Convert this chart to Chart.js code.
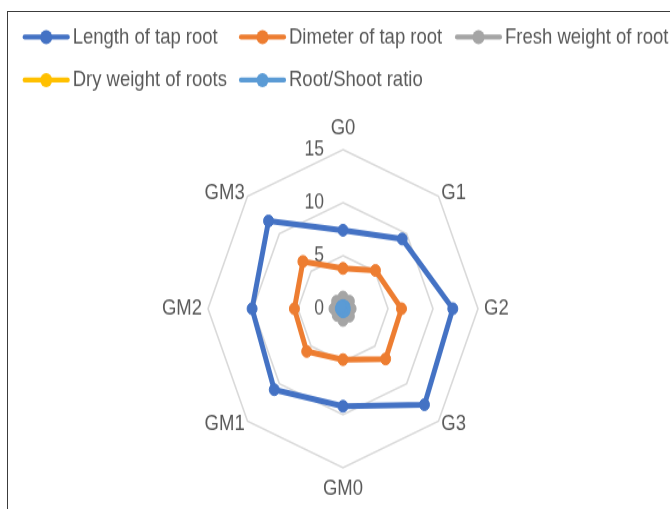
<!DOCTYPE html>
<html>
<head>
<meta charset="utf-8">
<script src="https://cdn.jsdelivr.net/npm/chart.js@4/dist/chart.umd.min.js"></script>
<style>
  html, body { margin: 0; padding: 0; background: #ffffff; }
  #page { position: relative; width: 670px; height: 509px; overflow: hidden; background: #fff; }
  #frame { position: absolute; left: 7px; top: 11px; width: 720px; height: 600px; border: 1px solid #3c3c3c; box-sizing: border-box; }
  #wrap { position: absolute; left: 0; top: 0; width: 670px; height: 432px; transform: scaleY(1.1782); transform-origin: 0 0; }
</style>
</head>
<body>
<div id="page">
  <div id="frame"></div>
  <div id="wrap"><canvas id="c" width="670" height="432"></canvas></div>
</div>
<script>
// ---- data ----
const categories = ['G0', 'G1', 'G2', 'G3', 'GM0', 'GM1', 'GM2', 'GM3'];
const seriesNames = ['Length of tap root', 'Dimeter of tap root', 'Fresh weight of root', 'Dry weight of roots', 'Root/Shoot ratio'];
const lengthOfTapRoot   = [7.4, 9.3, 12.2, 12.8, 9.2, 10.8, 10.1, 11.7];
const diameterOfTapRoot = [3.8, 5.1, 6.5, 6.7, 4.8, 5.7, 5.4, 6.3];
const freshWeightOfRoot = [1.1, 1.0, 0.9, 1.0, 1.1, 0.9, 1.0, 1.0];
const dryWeightOfRoots  = [0.2, 0.2, 0.15, 0.2, 0.2, 0.15, 0.2, 0.2];
const rootShootRatio    = [0.3, 0.3, 0.25, 0.3, 0.3, 0.25, 0.3, 0.3];
const axisMin = 0;
const axisMax = 15;
const axisStep = 5;
const seriesColors = ['#4472C4', '#ED7D31', '#A5A5A5', '#FFC000', '#5B9BD5'];

const seriesValues = [lengthOfTapRoot, diameterOfTapRoot, freshWeightOfRoot, dryWeightOfRoots, rootShootRatio];
const TEXT = '#595959';

const datasets = seriesValues.map((vals, i) => ({
  label: seriesNames[i],
  data: vals,
  borderColor: seriesColors[i],
  backgroundColor: seriesColors[i],
  pointBackgroundColor: seriesColors[i],
  pointBorderColor: seriesColors[i],
  borderWidth: 5,
  pointRadius: 5,
  pointBorderWidth: 1,
  borderJoinStyle: 'round',
  fill: false,
  order: seriesValues.length - i
}));

const overlay = {
  id: 'overlay',
  beforeDatasetsDraw(chart) {
    const ctx = chart.ctx, r = chart.scales.r;
    ctx.save();
    ctx.font = '17.5px "Liberation Sans"';
    ctx.fillStyle = TEXT;
    ctx.textAlign = 'right';
    ctx.textBaseline = 'middle';
    r.ticks.forEach(t => {
      const d = r.getDistanceFromCenterForValue(t.value);
      ctx.fillText(t.label, r.xCenter - 19, r.yCenter - d);
    });
    // point labels
    ctx.font = '18.5px "Liberation Sans"';
    chart.data.labels.forEach((lab, i) => {
      const base = r.getPointPosition(i, r.drawingArea);
      const dx = base.x - r.xCenter, dy = base.y - r.yCenter;
      const pad = Math.abs(dx) < 1 ? 18 : (Math.abs(dy) < 1 ? 6 : 4);
      const p = r.getPointPosition(i, r.drawingArea + pad);
      ctx.textAlign = Math.abs(dx) < 1 ? 'center' : (dx > 0 ? 'left' : 'right');
      ctx.fillText(lab, p.x, p.y);
    });
    ctx.restore();
  },
  afterDraw(chart) {
    const ctx = chart.ctx;
    const cols = [22.7, 239, 455];
    const rows = [31.4, 67.9];
    ctx.save();
    ctx.font = '18.5px "Liberation Sans"';
    ctx.textBaseline = 'middle';
    ctx.textAlign = 'left';
    chart.data.datasets.forEach((ds, i) => {
      const x = cols[i % 3], y = rows[Math.floor(i / 3)];
      ctx.strokeStyle = ds.borderColor;
      ctx.lineWidth = 4.2;
      ctx.lineCap = 'round';
      ctx.beginPath();
      ctx.moveTo(x + 2, y);
      ctx.lineTo(x + 45, y);
      ctx.stroke();
      ctx.fillStyle = ds.borderColor;
      ctx.beginPath();
      ctx.arc(x + 23.5, y, 6, 0, Math.PI * 2);
      ctx.fill();
      ctx.fillStyle = TEXT;
      ctx.fillText(ds.label, x + 50, y + 0.5);
    });
    ctx.restore();
  }
};

new Chart(document.getElementById('c'), {
  type: 'radar',
  data: { labels: categories, datasets },
  options: {
    responsive: false,
    animation: false,
    devicePixelRatio: 1,
    layout: { padding: { left: 208, right: 192, top: 127, bottom: 35 } },
    plugins: { legend: { display: false }, tooltip: { enabled: false } },
    scales: {
      r: {
        min: axisMin,
        max: axisMax,
        ticks: { stepSize: axisStep, display: false },
        angleLines: { display: false },
        pointLabels: { display: false },
        grid: { color: '#D9D9D9', lineWidth: 1.6, circular: false }
      }
    }
  },
  plugins: [overlay]
});
</script>
</body>
</html>
